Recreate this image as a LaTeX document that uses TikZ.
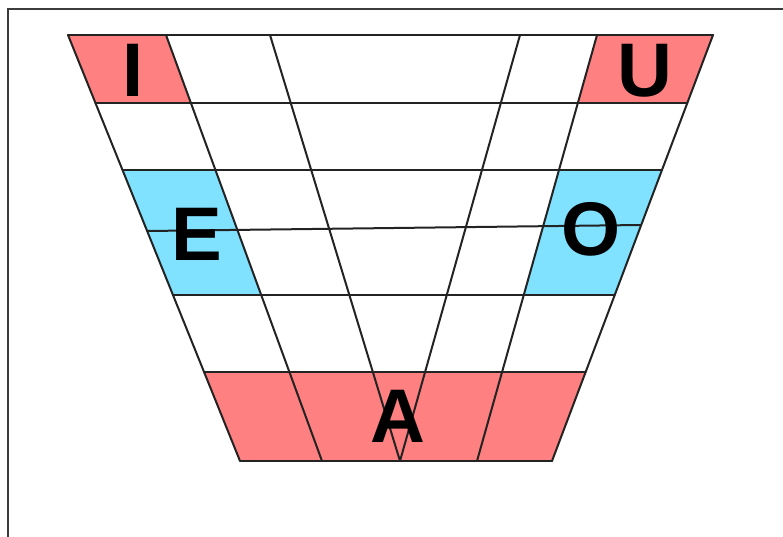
\documentclass[tikz,border=0pt]{standalone}
\usepackage{fontspec}
\setmainfont{Liberation Sans}
\usetikzlibrary{calc}
\definecolor{vred}{RGB}{255,128,128}
\definecolor{vblue}{RGB}{128,226,255}
\definecolor{gridc}{RGB}{35,35,35}
\definecolor{framec}{RGB}{60,60,60}
\begin{document}
\begin{tikzpicture}[x=1pt,y=-1pt,
  gridline/.style={draw=gridc,line width=2pt,line cap=round},
  vowel/.style={font=\fontsize{76}{76}\selectfont\bfseries,inner sep=0pt,anchor=base}]
\useasboundingbox (0,0) rectangle (783,537);
% frame
\draw[framec,line width=1.4pt] (8,537) -- (8,9) -- (783,9);
% line end points
\coordinate (T0) at (68,35);  \coordinate (B0) at (240,461);
\coordinate (T1) at (166,35); \coordinate (B1) at (322,461);
\coordinate (T2) at (270,35); \coordinate (B2) at (400,461);
\coordinate (T3) at (520,35); \coordinate (B3) at (400,461);
\coordinate (T4) at (597,35); \coordinate (B4) at (477,461);
\coordinate (T5) at (713,35); \coordinate (B5) at (552,461);
\def\rA{0.1596}\def\rB{0.3169}\def\rD{0.6103}\def\rE{0.7911}
% fills
\fill[vred] (T0) -- (T1) -- ($(T1)!\rA!(B1)$) -- ($(T0)!\rA!(B0)$) -- cycle;
\fill[vred] (T4) -- (T5) -- ($(T5)!\rA!(B5)$) -- ($(T4)!\rA!(B4)$) -- cycle;
\fill[vblue] ($(T0)!\rB!(B0)$) -- ($(T1)!\rB!(B1)$) -- ($(T1)!\rD!(B1)$) -- ($(T0)!\rD!(B0)$) -- cycle;
\fill[vblue] ($(T4)!\rB!(B4)$) -- ($(T5)!\rB!(B5)$) -- ($(T5)!\rD!(B5)$) -- ($(T4)!\rD!(B4)$) -- cycle;
\fill[vred] ($(T0)!\rE!(B0)$) -- ($(T5)!\rE!(B5)$) -- (B5) -- (B0) -- cycle;
% slanted lines
\foreach \i in {0,...,5} {\draw[gridline] (T\i) -- (B\i);}
% rows
\draw[gridline] (T0) -- (T5);
\foreach \r in {\rA,\rB,\rD,\rE} {\draw[gridline] ($(T0)!\r!(B0)$) -- ($(T5)!\r!(B5)$);}
\draw[gridline] ($(T0)!0.4601!(B0)$) -- ($(T5)!0.4460!(B5)$);
\draw[gridline] (B0) -- (B5);
% letters
\node[vowel] (I) at (133,97) {I};
\node[vowel] (U) at (644.5,97) {U};
\node[vowel] (E) at (196.5,260) {E};
\node[vowel] (O) at (591.5,255.5) {O};
\node[vowel] (A) at (397.5,442) {A};
\end{tikzpicture}
\end{document}
